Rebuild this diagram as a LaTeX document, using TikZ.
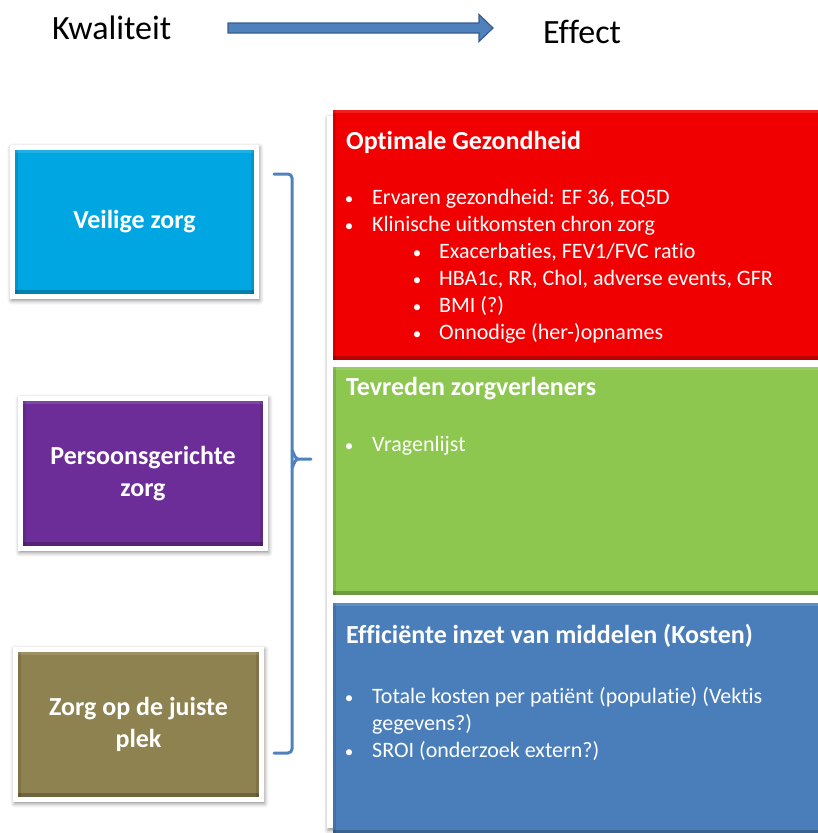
\documentclass[tikz,border=0pt]{standalone}
\usepackage{fontspec}
\setmainfont{Carlito}[Ligatures=NoCommon]
\usetikzlibrary{shadows.blur,backgrounds}
\definecolor{cyanbox}{RGB}{0,166,226}
\definecolor{purplebox}{RGB}{108,45,152}
\definecolor{olivebox}{RGB}{142,130,80}
\definecolor{redbox}{RGB}{240,0,0}
\definecolor{greenbox}{RGB}{141,199,80}
\definecolor{bluebox}{RGB}{74,126,187}
\definecolor{bracecol}{RGB}{79,129,189}
\definecolor{arrowline}{RGB}{56,93,138}
\begin{document}
\begin{tikzpicture}[x=1pt,y=-1pt,
  bevel/.style={path picture={
      \fill[black,opacity=.22] (path picture bounding box.south west) rectangle ([yshift=4pt]path picture bounding box.south east);
      \fill[white,opacity=.12] (path picture bounding box.north west) rectangle ([yshift=-3pt]path picture bounding box.north east);
      \fill[black,opacity=.10] (path picture bounding box.south west) rectangle ([xshift=3pt]path picture bounding box.north west);
      \fill[black,opacity=.10] (path picture bounding box.south east) rectangle ([xshift=-3pt]path picture bounding box.north east);}},
  leftbox/.style={rectangle, bevel, inner sep=0, text=white, align=center,
      font=\fontsize{26}{32}\selectfont\bfseries},
  rightbox/.style={rectangle, bevel, inner sep=0, anchor=north west, minimum width=500},
  frame/.style={fill=white, blur shadow={shadow xshift=1pt, shadow yshift=-2pt, shadow blur radius=4pt, shadow opacity=45}},
  txt/.style={anchor=base west, inner sep=0, text=white, font=\fontsize{22}{27}\selectfont},
  ttl/.style={anchor=base west, inner sep=0, text=white, font=\fontsize{26}{32}\selectfont\bfseries},
  bul/.style={anchor=base, inner sep=0, text=white, font=\fontsize{17}{27}\selectfont},
  head/.style={anchor=west, inner sep=0, text=black, font=\fontsize{34}{40}\selectfont},
  brace/.style={draw=bracecol, line width=3pt, line cap=round, line join=round},
  fatarrow/.style={fill=bracecol, draw=arrowline, line width=1.2pt, line join=miter}
]
\useasboundingbox (0,0) rectangle (817,833);

% header
\node[head] (kw) at (52,28) {Kwaliteit};
\node[head] (ef) at (543,32) {Effect};
\coordinate (as) at (228,28);
\coordinate (ae) at (493,28);
\filldraw[fatarrow] (as) ++(0,-5) -- ++(251,0) -- ++(0,-8.5) -- (ae) -- ++(-14,13.5) -- ++(0,-8.5) -- ++(-251,0) -- cycle;

% left boxes
\node[leftbox, fill=cyanbox, minimum width=239, minimum height=144] (veilig) at (134.5,222) {Veilige zorg};
\node[leftbox, fill=purplebox, minimum width=240, minimum height=145] (persoon) at (143,473.5) {Persoonsgerichte\\zorg};
\node[leftbox, fill=olivebox, minimum width=241, minimum height=145] (plek) at (138.5,724.5) {Zorg op de juiste\\plek};

% right boxes
\node[rightbox, fill=redbox, minimum height=250] (rood) at (333,110) {};
\node[rightbox, fill=greenbox, minimum height=228] (groen) at (333,367) {};
\node[rightbox, fill=bluebox, minimum height=231] (blauw) at (333,603) {};

\begin{scope}[on background layer]
  \fill[frame] ([shift={(-4.5,4.5)}]veilig.south west) rectangle ([shift={(4.5,-4.5)}]veilig.north east);
  \fill[frame] ([shift={(-4.5,4.5)}]persoon.south west) rectangle ([shift={(4.5,-4.5)}]persoon.north east);
  \fill[frame] ([shift={(-4.5,4.5)}]plek.south west) rectangle ([shift={(4.5,-4.5)}]plek.north east);
  \fill[frame] ([shift={(-6,6)}]rood.north west) rectangle ([shift={(6,-6)}]blauw.south east);
\end{scope}

% red box text
\node[ttl] (t1) at (346,149) {Optimale Gezondheid};
\node[bul] (b1) at (349,204) {\textbullet};
\node[txt] (l1) at (372,204) {Ervaren gezondheid: EF 36, EQ5D};
\node[bul] (b2) at (349,231) {\textbullet};
\node[txt] (l2) at (372,231) {Klinische uitkomsten chron zorg};
\node[bul] (b3) at (417,258) {\textbullet};
\node[txt] (l3) at (439,258) {Exacerbaties, FEV1/FVC ratio};
\node[bul] (b4) at (417,285) {\textbullet};
\node[txt] (l4) at (439,285) {HBA1c, RR, Chol, adverse events, GFR};
\node[bul] (b5) at (417,312) {\textbullet};
\node[txt] (l5) at (439,312) {BMI (?)};
\node[bul] (b6) at (417,339) {\textbullet};
\node[txt] (l6) at (439,339) {Onnodige (her-)opnames};

% green box text
\node[ttl] (t2) at (346,395) {Tevreden zorgverleners};
\node[bul] (b7) at (349,451) {\textbullet};
\node[txt] (l7) at (372,451) {Vragenlijst};

% blue box text
\node[ttl] (t3) at (346,643) {Efficiënte inzet van middelen (Kosten)};
\node[bul] (b8) at (349,703) {\textbullet};
\node[txt] (l8) at (372,703) {Totale kosten per patiënt (populatie) (Vektis};
\node[txt] (l8b) at (372,730) {gegevens?)};
\node[bul] (b9) at (349,757) {\textbullet};
\node[txt] (l9) at (372,757) {SROI (onderzoek extern?)};

% brace
\coordinate (btop) at (274,174);
\coordinate (bbot) at (274,753);
\coordinate (btip) at (311,459);
\draw[brace] (btop) -- (288,174) to[out=0,in=90] (292,178) -- (292,749) to[out=-90,in=0] (288,753) -- (bbot);
\draw[brace] (292,451) to[out=90,in=180] (298,459) -- (btip);
\draw[brace] (292,467) to[out=-90,in=180] (298,459);
\end{tikzpicture}
\end{document}
